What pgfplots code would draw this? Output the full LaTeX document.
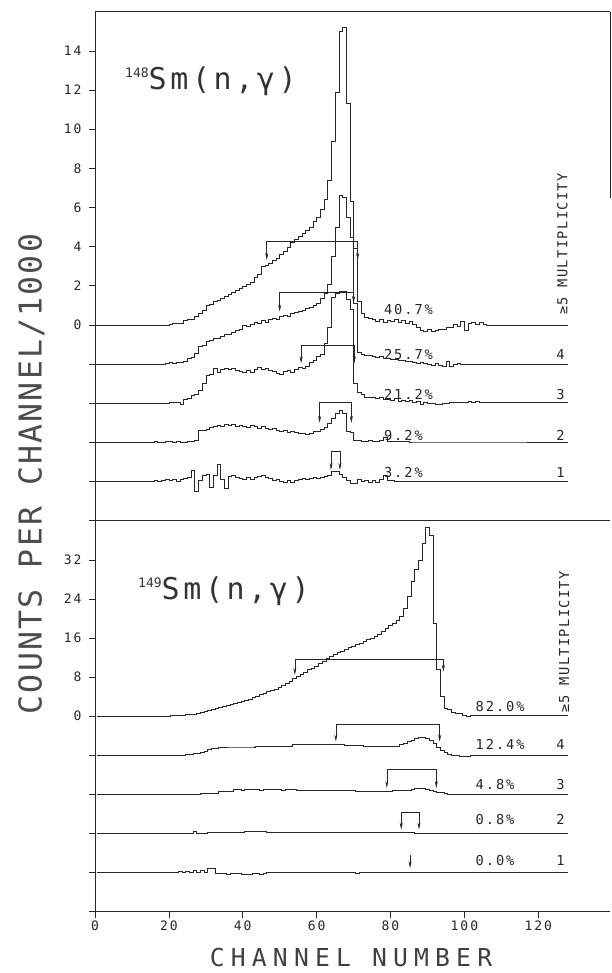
\documentclass[border=0pt]{standalone}
\usepackage{fontspec}
\usepackage{pgfplots}
\pgfplotsset{compat=1.18}
\usepackage{pgfplotstable}
\usetikzlibrary{arrows.meta}
\newfontfamily\tickf{DejaVu Sans Mono}[LetterSpace=15]
\newfontfamily\labf{DejaVu Sans Mono}[LetterSpace=14]
\newfontfamily\rotf{DejaVu Sans Mono}[LetterSpace=10]
\newfontfamily\supf{DejaVu Sans Mono}
\newfontfamily\titf{DejaVu Sans Mono}[LetterSpace=12]
\newfontfamily\bigf{DejaVu Sans Mono}[LetterSpace=25]
\newfontfamily\ylf{DejaVu Sans Mono}[LetterSpace=7]
\newcommand\tickfont{\tickf\fontsize{13}{13}\selectfont}
\newcommand\labfont{\labf\fontsize{13.7}{14}\selectfont}

% upper panel: counts/1000, relative to each spectrum's own baseline
\pgfplotstableread{
ch a b c d e
0 0 0 0 0 0
16 0 0 0 0.03 0.05
17 0 0 0 0 0
18 0 0 0 0 0.05
19 0 0.05 0 0.03 0.1
20 0.05 0.1 0.05 0.03 0.05
21 0.08 0.05 0.07 0 0.1
22 0.08 0.1 0.05 0.03 0
23 0.1 0.1 -0.05 0 0.1
24 0.25 0.15 0.2 0 0.15
25 0.28 0.3 0.25 0.03 0.2
26 0.3 0.35 0.4 0.05 0.55
27 0.45 0.55 0.45 0.1 -0.5
28 0.6 0.9 0.65 0.6 0.05
29 0.75 0.95 1.0 0.6 0.3
30 1.0 1.15 1.45 0.65 0.35
31 1.07 1.2 1.5 0.75 -0.3
32 1.2 1.3 1.8 0.8 0.3
33 1.25 1.3 1.6 0.85 0.9
34 1.35 1.4 1.75 0.8 0.1
35 1.45 1.5 1.8 0.9 -0.35
36 1.55 1.5 1.75 0.85 0.25
37 1.65 1.6 1.8 0.9 0.3
38 1.75 1.75 1.7 0.8 0.2
39 1.85 1.8 1.65 0.85 0.15
40 1.95 2.0 1.6 0.8 0.1
41 2.05 1.95 1.7 0.75 0.2
42 2.2 2.05 1.6 0.85 0.1
43 2.45 2.15 1.75 0.8 0.2
44 2.6 2.1 1.85 0.7 0.25
45 3.0 2.25 1.75 0.8 0.3
46 3.05 2.15 1.8 0.7 0.2
47 3.15 2.3 1.7 0.65 0.15
48 3.3 2.35 1.65 0.7 0.05
49 3.4 2.3 1.55 0.6 0.1
50 3.6 2.45 1.5 0.55 0
51 3.75 2.5 1.65 0.6 -0.05
52 3.95 2.45 1.7 0.5 0.05
53 4.2 2.6 1.6 0.55 -0.05
54 4.35 2.65 1.75 0.5 0.05
55 4.55 2.7 1.85 0.45 0.1
56 4.7 2.75 1.8 0.45 0.15
57 4.85 2.85 1.9 0.4 0.1
58 5.0 2.9 2.1 0.45 0.15
59 5.3 3.0 2.2 0.55 0.2
60 5.5 3.1 2.4 0.55 0.15
61 5.9 3.35 2.5 0.65 0.2
62 6.4 3.6 3.05 0.75 0.25
63 7.4 4.1 3.9 0.95 0.3
64 9.4 5.5 5.4 1.25 0.5
65 11.9 7.0 5.6 1.5 0.5
66 15.0 8.6 5.7 1.65 0.35
67 15.2 8.5 5.7 1.5 0.2
68 11.3 7.5 5.3 0.55 0.05
69 6.3 6.5 4.8 0.5 -0.1
70 3.9 3.1 1.0 0.1 -0.1
71 1.2 0.6 0.55 0.1 0.1
72 0.6 0.5 0.45 0.05 0
73 0.4 0.45 0.3 0.05 0.05
74 0.35 0.45 0.3 0.1 -0.05
75 0.3 0.4 0.3 0.05 0.05
76 0.2 0.35 0.25 0.05 -0.05
77 0.3 0.4 0.3 0.1 0.1
78 0.15 0.3 0.2 0.25 0.3
79 0.25 0.3 0.2 0.05 0.05
80 0.2 0.25 0.15 0.05 0.05
81 0.3 0.25 0.25 0.03 0.02
82 0.15 0.2 0.1 0.05 0.02
83 0.25 0.2 0.15 0.03 0.02
84 0.1 0.15 0.1 0.03 0.02
85 0.2 0.15 0.15 0.02 0.02
86 0.05 0.1 0.05 0.02 0.02
87 -0.1 0.05 0.1 0.02 0.02
88 -0.3 0.1 -0.05 0.02 0.02
89 -0.35 0.05 0.05 0.02 0.02
90 -0.2 0 0 0.02 0.02
91 -0.35 -0.05 0 0.02 0.02
92 -0.25 0.05 -0.05 0.02 0.02
93 -0.2 -0.05 -0.05 0.02 0.02
94 -0.2 -0.1 0 0.02 0.02
95 -0.1 0.15 0 0.02 0.02
96 -0.1 -0.1 0.05 0.02 0.02
97 0.05 0 0.05 0.02 0.02
98 -0.05 0.05 0.05 0.02 0.02
99 0.2 0 0.05 0.02 0.02
100 -0.3 0 0.05 0.02 0.02
101 0.1 0 0.1 0.02 0.02
102 0.15 0 0.05 0.02 0.02
103 0.05 0 0.1 0.02 0.02
104 0.15 0 0.05 0.02 0.02
105 0.05 0 0.05 0.02 0.02
106 0 0 0.03 0.02 0.02
128 0 0 0.03 0.02 0.02
}\uptab

% lower panel: counts/1000, relative to each spectrum's own baseline
\pgfplotstableread{
ch a b c d e
0 0 0 0 0 0
20 0.1 0 0 0 0.1
21 0.15 0 0 0 0
22 0.2 0 0 0 0.2
23 0.2 0 0 0 0.1
24 0.3 0.2 0 0 0.25
25 0.35 0.3 0 0.1 0.1
26 0.4 0.4 0 0.45 0.45
27 0.5 0.5 0 0.05 0.1
28 0.8 0.6 0.3 0.1 0.4
29 1.0 0.8 0.3 0.1 0.15
30 1.2 1.2 0.3 0.25 0.95
31 1.5 1.5 0.3 0.25 0.8
32 1.7 1.4 0.3 0.25 -0.1
33 1.9 1.6 0.6 0.25 -0.2
34 2.1 1.6 0.6 0.25 -0.15
35 2.3 1.7 0.6 0.3 -0.25
36 2.5 1.7 0.6 0.3 -0.15
37 2.7 1.7 0.95 0.3 -0.1
38 2.9 1.7 0.95 0.3 -0.15
39 3.1 1.7 0.9 0.3 -0.3
40 3.3 1.7 0.95 0.4 -0.4
41 3.5 1.7 1.0 0.4 -0.3
42 3.8 1.7 0.95 0.4 -0.1
43 4.1 1.9 0.95 0.4 -0.2
44 4.4 1.9 0.9 0.4 -0.4
45 4.7 1.9 0.95 0.4 -0.1
46 5.0 1.9 0.95 0.3 0.05
47 5.3 1.9 1.0 0.3 0.05
48 5.6 1.9 0.95 0.3 0.05
49 6.0 1.9 0.95 0.3 0
50 6.4 1.9 0.9 0.3 0
51 6.8 1.9 0.95 0.3 0
52 7.2 1.9 0.95 0.3 0
53 7.7 2.15 0.95 0.3 0
54 8.2 2.15 0.9 0.3 0
55 8.6 2.15 0.8 0.3 0
56 9.0 2.15 0.8 0.2 0.05
57 9.5 2.15 0.8 0.2 0.05
58 9.9 2.15 0.8 0.2 0.05
59 10.3 2.15 0.8 0.2 0.05
60 10.8 2.15 0.8 0.2 0.05
61 11.3 2.15 0.8 0.2 0
62 11.8 2.25 0.8 0.2 0
63 12.2 2.25 0.8 0.2 0
64 12.6 2.25 0.8 0.2 0
65 13.0 2.25 0.8 0.2 0
66 13.3 2.25 0.8 0.2 0
67 13.7 2.05 0.8 0.2 0
68 14.0 2.05 0.8 0.2 0
69 14.4 2.05 0.8 0.2 0
70 14.7 2.05 0.7 0.2 -0.15
71 15.0 2.05 0.7 0.15 0
72 15.3 1.85 0.7 0.15 0
73 15.7 1.85 0.7 0.15 0
74 16.0 1.85 0.7 0.15 0
75 16.4 1.85 0.7 0.15 0
76 16.8 1.85 0.7 0.15 0
77 17.3 1.85 0.7 0.15 0
78 18.0 1.9 0.7 0.15 0
79 18.6 1.9 0.7 0.15 0
80 19.0 1.9 0.8 0.15 0
81 19.6 1.9 0.8 0.15 0
82 20.5 2.2 0.8 0.15 0
83 22.0 2.5 0.8 0.15 0
84 24.5 2.8 0.8 0.15 0
85 27.5 3.1 1.0 0.15 0
86 30.0 3.4 1.15 0.05 0
87 32.0 3.6 1.2 0.05 0
88 35.4 3.75 1.2 0.05 0
89 38.6 3.5 1.1 0.05 0
90 37.0 3.0 0.9 0.05 0
91 19.0 2.4 0.7 0.05 0
92 9.5 1.7 0.5 0.05 0
93 4.0 1.1 0.35 0.05 0
94 1.6 0.6 0.2 0.05 0
95 1.4 0.3 0.1 0.05 0
96 0.8 0.1 0 0.05 0
97 0.6 0 0 0.05 0
98 0.5 -0.15 0 0.05 0
99 0.2 -0.2 0 0.05 0
100 0.05 -0.15 0 0.05 0
101 0.1 -0.05 0 0 0
102 0.1 0 0 0 0
127.5 0.1 0 0 0 0
}\lowtab

\tikzset{lab/.style={font=\labfont, inner sep=0pt, text=black!85}}
\pgfplotsset{
  trace/.style={black!85, line width=0.6pt, no marks},
  brk/.style={black!85, line width=0.6pt, no marks,
    {Stealth[length=7pt,width=3pt]}-{Stealth[length=7pt,width=3pt]}},
  common/.style={
    scale only axis, width=515.3pt, anchor=south west,
    xmin=0, xmax=139.5, clip=false,
    axis line style={black!85, line width=0.6pt},
    tick style={black!85, line width=0.6pt},
    tick align=outside, major tick length=6pt,
    ticklabel style={font=\tickfont, text=black!85},
    yticklabel style={xshift=-4pt},
    /pgf/number format/assume math mode=true,
  },
}

\begin{document}
\begin{tikzpicture}[x=1pt,y=1pt]
\useasboundingbox (0,0) rectangle (611,973);

% ---------- upper panel: 148Sm(n,gamma)
\begin{axis}[common, at={(95pt,452.3pt)}, height=509pt,
  ymin=-10, ymax=16,
  axis x line*=box, axis y line*=left,
  xtick=\empty,
  ytick={-10,-8,...,14}, yticklabels={,,,,,0,2,4,6,8,10,12,14}]
\addplot[trace, const plot] table[x=ch, y=a] \uptab;
\addplot[trace, const plot] table[x=ch, y expr=\thisrow{b}-2] \uptab;
\addplot[trace, const plot] table[x=ch, y expr=\thisrow{c}-4] \uptab;
\addplot[trace, const plot] table[x=ch, y expr=\thisrow{d}-6] \uptab;
\addplot[trace, const plot] table[x=ch, y expr=\thisrow{e}-8] \uptab;
% windows
\addplot[brk] coordinates {(46.5,3.32) (46.5,4.26) (71.1,4.26) (71.1,3.32)};
\addplot[brk] coordinates {(50,0.68) (50,1.65) (70,1.65) (70,1.12)};
\addplot[brk] coordinates {(55.8,-1.96) (55.8,-1.06) (70.2,-1.06) (70.2,-1.96)};
\addplot[brk] coordinates {(60.8,-5.0) (60.8,-3.97) (69.4,-3.97) (69.4,-5.0)};
\addplot[brk] coordinates {(63.9,-7.41) (63.9,-6.47) (66.3,-6.47) (66.3,-7.41)};
\draw[black!85, line width=0.6pt] (axis cs:139.5,16) -- (axis cs:139.5,6.5);
% percentages
\node[lab, anchor=base west] at (axis cs:78.2,0.51) {40.7\%};
\node[lab, anchor=base west] at (axis cs:78.2,-1.79) {25.7\%};
\node[lab, anchor=base west] at (axis cs:78.2,-3.83) {21.2\%};
\node[lab, anchor=base west] at (axis cs:78.2,-5.88) {9.2\%};
\node[lab, anchor=base west] at (axis cs:78.2,-7.77) {3.2\%};
% multiplicities
\node[lab, font=\rotf\fontsize{13.7}{14}\selectfont, rotate=90, anchor=west] at (axis cs:126.5,0.51) {≥5 MULTIPLICITY};
\node[lab, anchor=base east] at (axis cs:127.2,-1.79) {4};
\node[lab, anchor=base east] at (axis cs:127.2,-3.83) {3};
\node[lab, anchor=base east] at (axis cs:127.2,-5.88) {2};
\node[lab, anchor=base east] at (axis cs:127.2,-7.77) {1};
\end{axis}

% ---------- lower panel: 149Sm(n,gamma)
\begin{axis}[common, at={(95pt,61.3pt)}, height=391pt,
  ymin=-40, ymax=40,
  axis x line*=bottom, axis y line*=left,
  xtick={0,20,...,120},
  ytick={-40,-32,...,32}, yticklabels={,,,,,0,8,16,24,32}]
\addplot[trace, const plot] table[x expr=\thisrow{ch}+0.5, y=a] \lowtab;
\addplot[trace, const plot] table[x expr=\thisrow{ch}+0.5, y expr=\thisrow{b}-8] \lowtab;
\addplot[trace, const plot] table[x expr=\thisrow{ch}+0.5, y expr=\thisrow{c}-16] \lowtab;
\addplot[trace, const plot] table[x expr=\thisrow{ch}+0.5, y expr=\thisrow{d}-24] \lowtab;
\addplot[trace, const plot] table[x expr=\thisrow{ch}+0.5, y expr=\thisrow{e}-32] \lowtab;
% windows
\addplot[brk] coordinates {(54.1,8.45) (54.1,11.66) (94.3,11.66) (94.3,9.1)};
\addplot[brk] coordinates {(65.2,-5.2) (65.2,-1.64) (93.3,-1.64) (93.3,-5.2)};
\addplot[brk] coordinates {(79.0,-14.7) (79.0,-10.8) (92.4,-10.8) (92.4,-14.7)};
\addplot[brk] coordinates {(82.9,-23.2) (82.9,-19.7) (87.7,-19.7) (87.7,-23.2)};
\addplot[trace, -{Stealth[length=7pt,width=3pt]}] coordinates {(85.3,-28.4) (85.3,-31.1)};
% percentages
\node[lab, anchor=base west] at (axis cs:103,0.94) {82.0\%};
\node[lab, anchor=base west] at (axis cs:103,-6.9) {12.4\%};
\node[lab, anchor=base west] at (axis cs:103,-15.09) {4.8\%};
\node[lab, anchor=base west] at (axis cs:103,-22.26) {0.8\%};
\node[lab, anchor=base west] at (axis cs:103,-30.46) {0.0\%};
% multiplicities
\node[lab, font=\rotf\fontsize{13.7}{14}\selectfont, rotate=90, anchor=west] at (axis cs:127,0.68) {≥5 MULTIPLICITY};
\node[lab, anchor=base east] at (axis cs:127.2,-6.9) {4};
\node[lab, anchor=base east] at (axis cs:127.2,-15.09) {3};
\node[lab, anchor=base east] at (axis cs:127.2,-22.26) {2};
\node[lab, anchor=base east] at (axis cs:127.2,-30.46) {1};
\end{axis}

% panel titles
\node[anchor=base west, inner sep=0pt, text=black!80] at (125,883)
  {\raisebox{12pt}{\supf\fontsize{13}{13}\selectfont 148}\titf\fontsize{30}{30}\selectfont Sm(n,γ)};
\node[anchor=base west, inner sep=0pt, text=black!80] at (138,373)
  {\raisebox{12pt}{\supf\fontsize{13}{13}\selectfont 149}\titf\fontsize{30}{30}\selectfont Sm(n,γ)};

% axis titles
\node[inner sep=0pt, text=black!75] at (351,15)
  {\bigf\fontsize{24.7}{25}\selectfont CHANNEL NUMBER};
\node[rotate=90, inner sep=0pt, text=black!70] at (31.5,499)
  {\ylf\fontsize{31.5}{32}\selectfont COUNTS PER CHANNEL/1000};
\end{tikzpicture}
\end{document}
